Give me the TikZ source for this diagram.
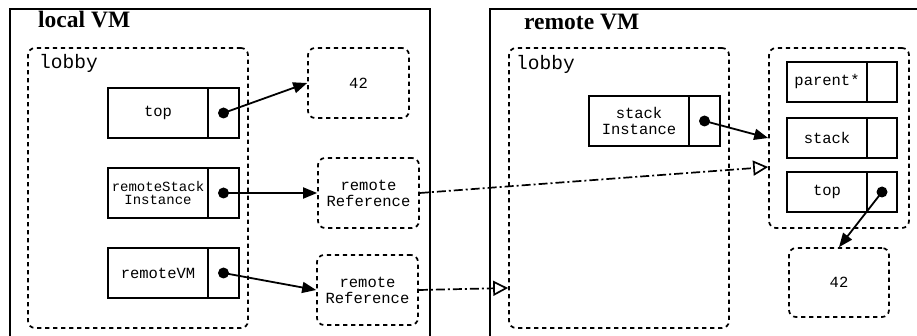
\documentclass[tikz,border=0pt]{standalone}
\usepackage{fontspec}
\setmainfont{Liberation Serif}
\setmonofont{Liberation Mono}
\usetikzlibrary{arrows.meta}
\begin{document}
\begin{tikzpicture}[x=1pt,y=-1pt,
  vmbox/.style={draw, line width=1.8pt, inner sep=0pt, anchor=north west},
  title/.style={anchor=base west, inner sep=0pt, font=\bfseries\fontsize{23.5}{28}\selectfont},
  dbox/.style={draw, line width=1.7pt, dash pattern=on 4.2pt off 3.8pt, rounded corners=7pt, inner sep=0pt, align=center, font=\ttfamily\fontsize{15.5}{16}\selectfont},
  lobbytext/.style={anchor=base west, inner sep=0pt, font=\ttfamily\fontsize{19.5}{20}\selectfont},
  namecell/.style={draw, line width=1.8pt, inner sep=0pt, align=center, font=\ttfamily\fontsize{15.5}{16}\selectfont},
  ptrcell/.style={draw, line width=1.8pt, inner sep=0pt},
  dotmark/.style={fill=black},
  ref/.style={line width=1.8pt, -{Triangle[length=14pt,width=11pt]}},
  remoteref/.style={line width=1.7pt, dash pattern=on 9pt off 3pt on 2pt off 3pt, -{Triangle[open,length=15pt,width=15pt]}}
]
\useasboundingbox (0,0) rectangle (917,336);
\fill[white] (0,0) rectangle (917,336);

% ---------- local VM ----------
\node[vmbox, minimum width=420pt, minimum height=340pt] (localvm) at (9,8) {};
\node[title] (localtitle) at (38,28) {local VM};
\node[dbox, minimum width=220pt, minimum height=280pt] (llobby) at (138,188) {};
\node[lobbytext] (llobbytext) at (39,69) {lobby};

\node[namecell, minimum width=100pt, minimum height=50pt] (ltop) at (158,113) {top};
\node[ptrcell, minimum width=31pt, minimum height=50pt] (ltopp) at (223.5,113) {};
\node[namecell, minimum width=100pt, minimum height=50pt, font=\ttfamily\fontsize{14}{13.5}\selectfont] (lrsi) at (158,193) {remoteStack\\Instance};
\node[ptrcell, minimum width=31pt, minimum height=50pt] (lrsip) at (223.5,193) {};
\node[namecell, minimum width=100pt, minimum height=50pt] (lrvm) at (158,273) {remoteVM};
\node[ptrcell, minimum width=31pt, minimum height=50pt] (lrvmp) at (223.5,273) {};

\node[dbox, minimum width=101pt, minimum height=70pt] (l42) at (358.5,83) {42};
\node[dbox, minimum width=101pt, minimum height=70pt] (rr1) at (368.5,193) {remote\\Reference};
\node[dbox, minimum width=101pt, minimum height=70pt] (rr2) at (367.5,290) {remote\\Reference};

\fill[dotmark] (ltopp.center) circle (5.5pt);
\fill[dotmark] (lrsip.center) circle (5.5pt);
\fill[dotmark] (lrvmp.center) circle (5.5pt);
\draw[ref] (ltopp.center) -- (l42.west);
\draw[ref] (lrsip.center) -- (rr1.west);
\draw[ref] (lrvmp.center) -- (rr2.west);

% ---------- remote VM ----------
\node[vmbox, minimum width=440pt, minimum height=340pt] (remotevm) at (489,8) {};
\node[title] (remotetitle) at (524,30) {remote VM};
\node[dbox, minimum width=220pt, minimum height=280pt] (rlobby) at (619,188) {};
\node[lobbytext] (rlobbytext) at (516,70) {lobby};

\node[namecell, minimum width=100pt, minimum height=50pt] (rsi) at (639,121) {stack\\Instance};
\node[ptrcell, minimum width=31pt, minimum height=50pt] (rsip) at (704.5,121) {};

\node[dbox, minimum width=140pt, minimum height=180pt] (obj) at (839,138) {};
\node[namecell, minimum width=80pt, minimum height=40pt] (oparent) at (827,82) {parent*};
\node[ptrcell, minimum width=30pt, minimum height=40pt] (oparentp) at (882,82) {};
\node[namecell, minimum width=80pt, minimum height=40pt] (ostack) at (827,138) {stack};
\node[ptrcell, minimum width=30pt, minimum height=40pt] (ostackp) at (882,138) {};
\node[namecell, minimum width=80pt, minimum height=40pt] (otop) at (827,192) {top};
\node[ptrcell, minimum width=30pt, minimum height=40pt] (otopp) at (882,192) {};

\node[dbox, minimum width=100pt, minimum height=69pt] (r42) at (839,282.5) {42};

\fill[dotmark] (rsip.center) circle (5.5pt);
\fill[dotmark] (otopp.center) circle (5.5pt);
\draw[ref] (rsip.center) -- (obj.west);
\draw[ref] (otopp.center) -- (r42.north);

% ---------- remote references ----------
\draw[remoteref] (rr1.east) -- ([yshift=-29pt]obj.west);
\draw[remoteref] (rr2.east) -- ([yshift=-100pt]rlobby.west);
\end{tikzpicture}
\end{document}
